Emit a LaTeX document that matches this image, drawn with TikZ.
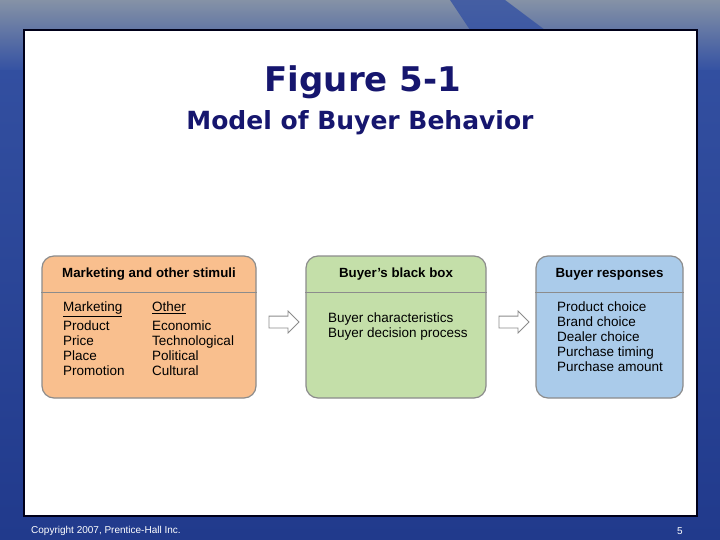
\documentclass[tikz,border=0pt]{standalone}
\usepackage{fontspec}
\setmainfont{Liberation Sans}
\newfontfamily\titlefont{DejaVu Sans}
\usetikzlibrary{shapes.arrows,positioning,calc}
\definecolor{titleColor}{HTML}{16166E}
\definecolor{stimColor}{HTML}{F9BF8E}
\definecolor{boxColor}{HTML}{C4DFA9}
\definecolor{respColor}{HTML}{AACBEA}
\definecolor{edgeColor}{HTML}{8C8C8C}
\definecolor{slideGray}{HTML}{8592A6}
\definecolor{slideBlue}{HTML}{3552A3}
\definecolor{slideDark}{HTML}{213A8C}
\tikzset{
  panel/.style={draw=edgeColor, line width=1.2pt, rounded corners=12pt, minimum height=142pt, inner sep=0pt},
  head/.style={inner sep=0pt, font=\fontsize{13.3}{15}\selectfont\bfseries},
  item/.style={anchor=north west, align=left, inner sep=0pt, font=\fontsize{13.5}{15}\selectfont},
  blockarrow/.style={single arrow, draw=edgeColor, fill=white, line width=0.8pt, minimum height=30pt,
    single arrow head extend=5pt, inner xsep=0pt, inner ysep=5.5pt},
  foot/.style={white, inner sep=0pt, font=\fontsize{10}{11}\selectfont}
}

\begin{document}
\begin{tikzpicture}[x=1pt,y=-1pt]
\useasboundingbox (0,0) rectangle (720,540);
% slide background
\fill[top color=slideBlue, bottom color=slideDark] (0,0) rectangle (720,540);
\fill[top color=slideGray, bottom color=slideBlue] (0,0) rectangle (720,70);
\fill[slideBlue, opacity=0.8] (450,0) -- (505,0) -- (545,30) -- (470,30) -- cycle;
\draw[line width=2pt, draw=black!90!blue, fill=white] (24,30) rectangle (697,516);
% titles
\node[titleColor, font=\titlefont\bfseries\fontsize{34}{40}\selectfont] (figtitle) at (363,82) {Figure 5-1};
\node[titleColor, font=\titlefont\bfseries\fontsize{25}{30}\selectfont] (subtitle) at (360,123) {Model of Buyer Behavior};
% the three boxes
\node[panel, fill=stimColor, minimum width=214pt] (stimuli) at (149,327) {};
\node[panel, fill=boxColor, minimum width=180pt] (blackbox) at (396,327) {};
\node[panel, fill=respColor, minimum width=147pt] (responses) at (609.5,327) {};
\draw[edgeColor, line width=0.8pt] (stimuli.west |- 0,292) -- (stimuli.east |- 0,292);
\draw[edgeColor, line width=0.8pt] (blackbox.west |- 0,292) -- (blackbox.east |- 0,292);
\draw[edgeColor, line width=0.8pt] (responses.west |- 0,292) -- (responses.east |- 0,292);
\node[head] (stimulihead) at (149,274) {Marketing and other stimuli};
\node[head] (blackboxhead) at (396,274) {Buyer's black box};
\node[head] (responseshead) at (609.5,274) {Buyer responses};
% box contents
\node[item] (mktlist) at (63,302) {\underline{Marketing}\\[4pt]Product\\Price\\Place\\Promotion};
\node[item] (otherlist) at (152,302) {\underline{Other}\\[4pt]Economic\\Technological\\Political\\Cultural};
\node[item] (blackboxlist) at (328,313) {Buyer characteristics\\Buyer decision process};
\node[item] (responseslist) at (557,302) {Product choice\\Brand choice\\Dealer choice\\Purchase timing\\Purchase amount};
% arrows
\node[blockarrow] (arrowone) at ($(stimuli.east)!0.5!(blackbox.west)+(0,-5)$) {};
\node[blockarrow] (arrowtwo) at ($(blackbox.east)!0.5!(responses.west)+(0,-5)$) {};
% footer
\node[foot, anchor=west] (copyright) at (31,531) {Copyright 2007, Prentice-Hall Inc.};
\node[foot] (pagenum) at (680,531) {5};
\end{tikzpicture}
\end{document}
